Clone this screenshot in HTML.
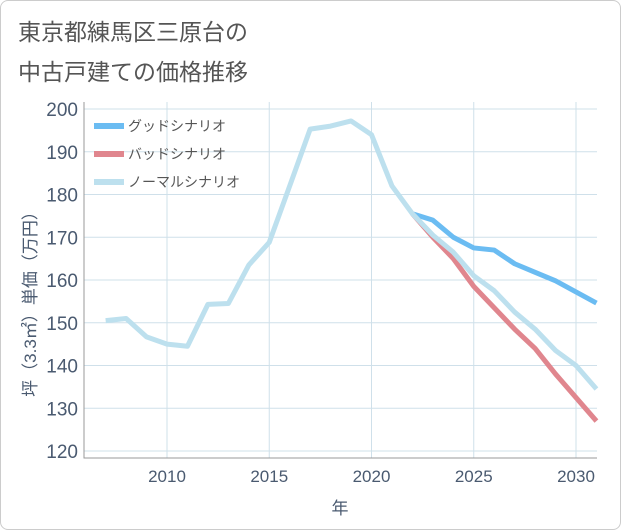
<!DOCTYPE html>
<html><head><meta charset="utf-8"><style>
body{margin:0;background:#fff;font-family:"Liberation Sans","Noto Sans CJK JP",sans-serif;}
#card{position:absolute;left:0;top:0;width:619px;height:528px;border:1px solid #ccc;border-radius:8px;background:#fff;}
</style></head><body>
<div id="card">
<svg id="svg" width="621" height="530" style="position:absolute;left:-1px;top:-1px">
<text x="18" y="40" font-size="23" fill="#555">東京都練馬区三原台の</text>
<text x="18" y="80" font-size="23" fill="#555">中古戸建ての価格推移</text>
</svg>
</div>
<script>
const years=[2007,2008,2009,2010,2011,2012,2013,2014,2015,2016,2017,2018,2019,2020,2021,2022,2023,2024,2025,2026,2027,2028,2029,2030,2031];
const normal=[150.5,151,146.7,145,144.5,154.3,154.5,163.5,168.8,182,195.3,196,197.2,194,182,175.5,170.5,166.5,161,157.5,152.5,148.5,143.5,140,134.5];
const goodYears=[2022,2023,2024,2025,2026,2027,2028,2029,2030,2031];
const good=[175.5,174,170,167.5,167,163.8,161.8,159.8,157.2,154.6];
const bad=[175.5,170,165,158.5,153.5,148.5,144,138,132.5,127];
const xTicks=[2010,2015,2020,2025,2030];
const yTicks=[120,130,140,150,160,170,180,190,200];
const svg=document.getElementById('svg');const NS='http://www.w3.org/2000/svg';
const L=84,R=597,T=102,B=458;
const x=v=>167+(v-2010)*(576-167)/20;
const y=v=>451-(v-120)*(451-109)/80;
function mk(t,a,p){const e=document.createElementNS(NS,t);for(const k in a)e.setAttribute(k,a[k]);(p||svg).appendChild(e);return e;}
const grid=mk('g',{});


for(const t of yTicks){mk('line',{x1:L,x2:R,y1:y(t),y2:y(t),stroke:'#cfe0ea'},grid);
const tx=mk('text',{x:L-6,y:y(t)+7,'text-anchor':'end','font-size':19,fill:'#4a5a70'});tx.textContent=t;

}
for(const t of xTicks){mk('line',{x1:x(t),x2:x(t),y1:T,y2:B,stroke:'#cfe0ea'},grid);
const tx=mk('text',{x:x(t),y:B+24,'text-anchor':'middle','font-size':17,fill:'#4a5a70'});tx.textContent=t;

}
const ax=mk('path',{d:`M${L},${T}V${B}H${R}`,fill:'none',stroke:'#999'});


function line(xs,vs,c,n){const p=mk('polyline',{points:xs.map((v,i)=>x(v)+','+y(vs[i])).join(' '),fill:'none',stroke:c,'stroke-width':5,'stroke-linejoin':'round'});

}
line(goodYears,bad,'#e0868e','bad-scenario-line');
line(goodYears,good,'#6bbcf2','good-scenario-line');
line(years,normal,'#bde0ee','normal-scenario-line');
const leg=[['グッドシナリオ','#6bbcf2'],['バッドシナリオ','#e0868e'],['ノーマルシナリオ','#bde0ee']];
leg.forEach((l,i)=>{const g=mk('g',{});


const yy=126+i*28;mk('rect',{x:94,y:yy-3,width:30,height:6,fill:l[1]},g);
const t=mk('text',{x:128,y:yy+5,'font-size':14,fill:'#555'},g);t.textContent=l[0];});
const yt=mk('text',{transform:'translate(36,300) rotate(-90)','text-anchor':'middle','font-size':17,fill:'#4a5a70'});yt.textContent='坪（3.3㎡）単価（万円）';


const xt=mk('text',{x:340,y:514,'text-anchor':'middle','font-size':17,fill:'#4a5a70'});xt.textContent='年';


</script>
</body></html>
